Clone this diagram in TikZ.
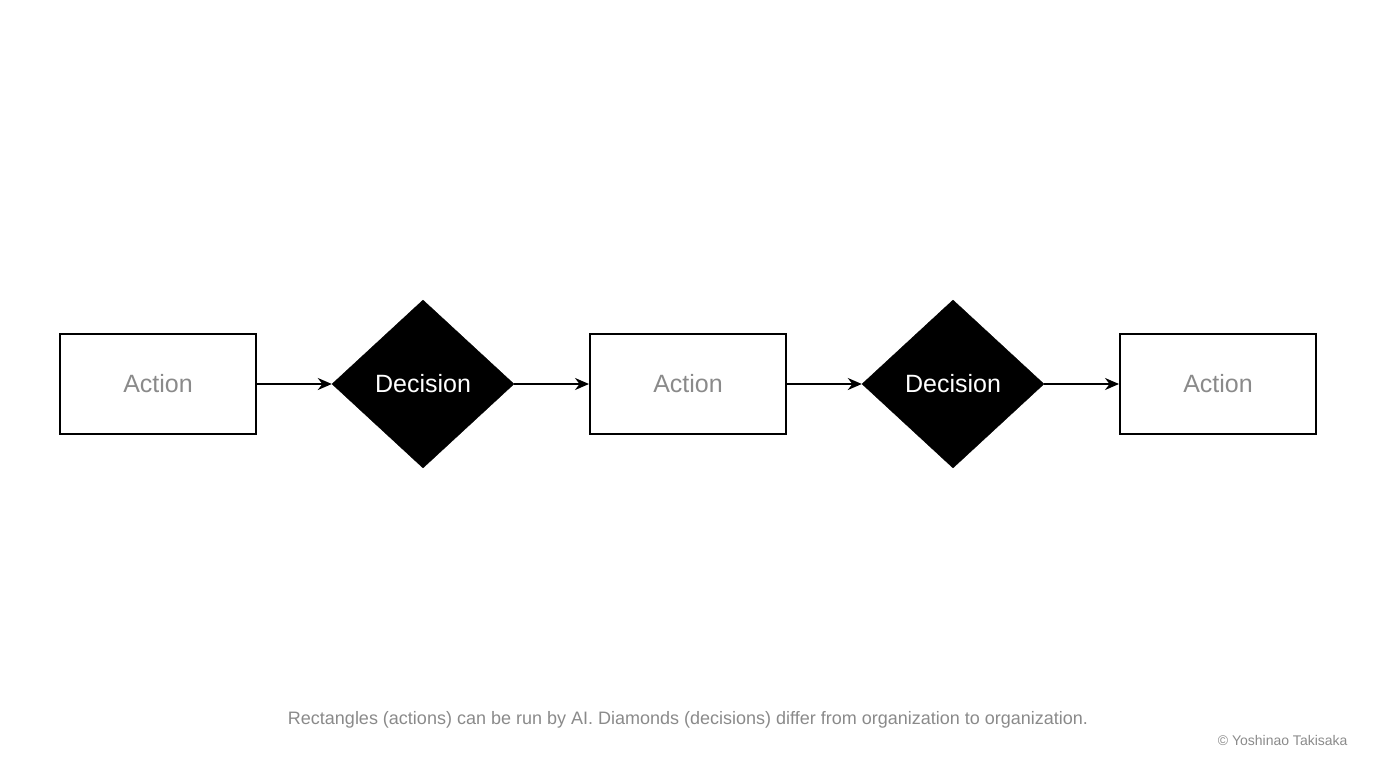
\documentclass[tikz,border=0pt]{standalone}
\usepackage{fontspec}
\setmainfont{Liberation Sans}
\usetikzlibrary{shapes.geometric,arrows.meta}
\definecolor{txtgray}{HTML}{8A8A8A}
\begin{document}
\begin{tikzpicture}[x=1pt,y=-1pt,
  actbox/.style={draw=black,line width=2pt,minimum width=196pt,minimum height=100pt,inner sep=0pt,text=txtgray,font=\fontsize{25}{30}\selectfont},
  decbox/.style={diamond,fill=black,draw=black,aspect=1.083,minimum width=182pt,minimum height=168pt,inner sep=0pt,text=white,font=\fontsize{25}{30}\selectfont},
  conn/.style={line width=2pt,-{Stealth[length=14pt,width=12pt]}}]
\useasboundingbox (0,0) rectangle (1376,768);
\node[actbox] (a1) at (158,384) {Action};
\node[decbox] (d1) at (423,384) {Decision};
\node[actbox] (a2) at (688,384) {Action};
\node[decbox] (d2) at (953,384) {Decision};
\node[actbox] (a3) at (1218,384) {Action};
\draw[conn] (a1) -- (d1);
\draw[conn] (d1) -- (a2);
\draw[conn] (a2) -- (d2);
\draw[conn] (d2) -- (a3);
\node[text=txtgray,font=\fontsize{18}{22}\selectfont] (cap) at (688,720) {Rectangles (actions) can be run by AI. Diamonds (decisions) differ from organization to organization.};
\node[text=txtgray,font=\fontsize{14}{17}\selectfont,anchor=east] (copy) at (1351,740) {© Yoshinao Takisaka};
\end{tikzpicture}
\end{document}
